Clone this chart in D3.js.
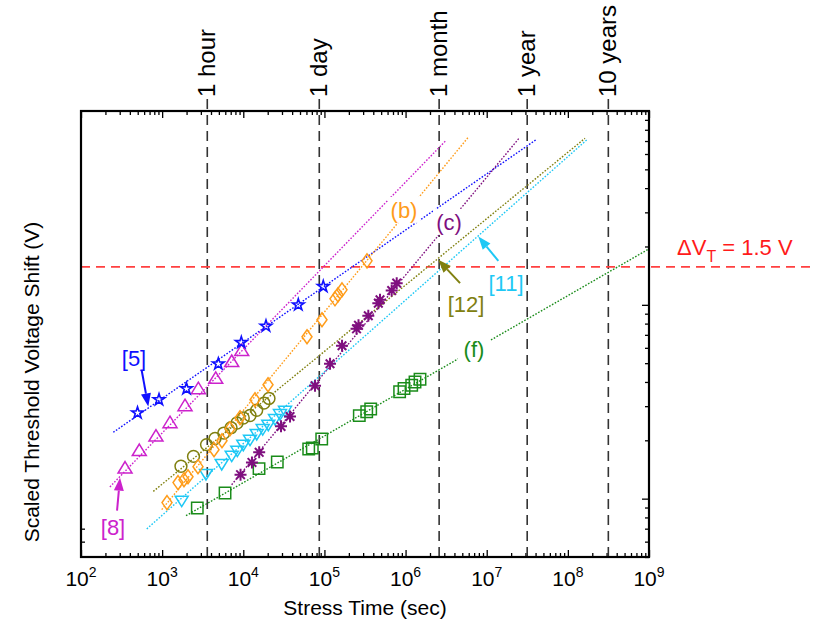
<!DOCTYPE html>
<html>
<head>
<meta charset="utf-8">
<script src="https://d3js.org/d3.v7.min.js"></script>
<style>
  body { margin: 0; background: #fff; }
  svg text { font-family: "Liberation Sans", Arial, sans-serif; }
</style>
</head>
<body>
<svg id="chart" width="815" height="628"></svg>
<script>
// measured points: [stress time (s), scaled threshold voltage shift (V)]
const ref5  = [[497,0.277],[915,0.324],[1995,0.369],[4925,0.496],[9460,0.639],[19050,0.777],[47650,1.0],[96800,1.243]];
const ref8  = [[349,0.143],[523,0.176],[839,0.209],[1250,0.245],[1914,0.300],[2793,0.367],[4573,0.415],[7200,0.507],[9560,0.577]];
const refB  = [[1148,0.0954],[1569,0.121],[1858,0.1253],[2083,0.1298],[2766,0.1462],[4357,0.179],[5466,0.199],[6860,0.2296],[9114,0.2616],[13940,0.3238],[20170,0.3872],[60990,0.684],[93300,0.837],[134900,1.074],[146900,1.126],[164700,1.195],[334900,1.686]];
const refC  = [[9250,0.133],[12790,0.1538],[15700,0.1733],[29170,0.236],[37670,0.2653],[76560,0.3824],[117200,0.4965],[164800,0.615],[248600,0.752],[263000,0.784],[347300,0.878],[461600,1.02],[484200,1.061],[674600,1.185],[777700,1.294]];
const ref12 = [[1706,0.147],[2435,0.1652],[3524,0.19],[4482,0.2043],[5754,0.218],[7060,0.2323],[8364,0.2456],[10000,0.2606],[12100,0.2685],[14630,0.2859],[17990,0.3113],[20740,0.3289]];
const ref11 = [[1742,0.0988],[3471,0.1357],[5421,0.1528],[7200,0.1686],[8440,0.179],[10000,0.192],[12100,0.2039],[14640,0.2181],[17350,0.2314],[20340,0.2435],[24600,0.2606],[28340,0.2765],[32660,0.2874]];
const refF  = [[2711,0.0895],[5960,0.107],[15630,0.1428],[26250,0.1546],[64000,0.1804],[70900,0.1824],[92590,0.2032],[269000,0.268],[332000,0.2808],[371700,0.29],[844600,0.356],[957000,0.3703],[1190000,0.3846],[1307000,0.3995],[1507000,0.413]];

// fitted power-law lines, end points
const fit5  = [[250,0.22],[4.02e7,7.09]];
const fit8  = [[227,0.115],[3.13e6,7.03]];
const fitB  = [[988,0.0878],[5.93e6,7.32]];
const fitC  = [[7190,0.118],[2.5e7,7.23]];
const fit12 = [[778,0.109],[1.626e8,7.23]];
const fit11 = [[646,0.0698],[1.707e8,7.09]];
const fitF  = [[1968,0.0817],[1e9,1.944]];

// time landmarks (s)
const timeLabels = ["1 hour", "1 day", "1 month", "1 year", "10 years"];
const timeValues = [3600, 86400, 2592000, 31536000, 315360000];

const xDomain = [1e2, 1e9];
const yDomain = [0.05, 10];
const xExponents = [2, 3, 4, 5, 6, 7, 8, 9];
const leftTicks = [0.06, 0.07];
const criterion = 1.57;

// annotation text positions and arrows [from, to]
const labels = [
  {text: "[5]",  at: [450, 0.533],   color: "#1010ff", bg: false},
  {text: "[8]",  at: [248, 0.0717],  color: "#cc22cc", bg: false},
  {text: "(b)",  at: [9.57e5, 3.088], color: "#ff9c1a", bg: true},
  {text: "(c)",  at: [3.43e6, 2.678], color: "#7f0f7f", bg: true},
  {text: "[11]", at: [1.73e7, 1.299], color: "#1ec8f5", bg: false},
  {text: "[12]", at: [5.56e6, 1.012], color: "#808010", bg: false},
  {text: "(f)",  at: [6.97e6, 0.593], color: "#1a8c1a", bg: true}
];
const arrows = [
  {from: [560, 0.4585], to: [675, 0.299], color: "#1010ff"},
  {from: [278, 0.0867], to: [302.6, 0.1283], color: "#cc22cc"},
  {from: [1.39e7, 1.686], to: [7.88e6, 2.249], color: "#1ec8f5"},
  {from: [4.69e6, 1.294], to: [2.53e6, 1.706], color: "#808010"}
];

const margin = {top: 111, right: 166, bottom: 71, left: 81};
const width = 815, height = 628;
const svg = d3.select("#chart");

let x = d3.scaleLog().domain(xDomain).range([margin.left, width - margin.right]);
let y = d3.scaleLog().domain(yDomain).range([height - margin.bottom, margin.top]);
const x0 = x.range()[0], x1 = x.range()[1], yTop = y.range()[1], yBot = y.range()[0];

// clip for plot content
svg.append("clipPath").attr("id", "plotclip")
   .append("rect").attr("x", x0).attr("y", yTop).attr("width", x1 - x0).attr("height", yBot - yTop);

// ticks (inside)
const xMinor = x.ticks().filter(d => Math.abs(Math.log10(d) - Math.round(Math.log10(d))) > 1e-6);
const xMajor = xExponents.map(e => Math.pow(10, e));
const yAll = y.ticks();
const yMajor = yAll.filter(d => Math.abs(Math.log10(d) - Math.round(Math.log10(d))) < 1e-6);
const yMinor = yAll.filter(d => !yMajor.includes(d));

function tickAxis(axisFn, scale, values, len, transform) {
  const g = svg.append("g").attr("transform", transform)
     .call(axisFn(scale).tickValues(values).tickSize(-len).tickFormat(""));
  g.select(".domain").remove();
  g.selectAll("line").attr("stroke", "#000").attr("stroke-width", 1.3);
}
tickAxis(d3.axisBottom, x, xMajor, 7, `translate(0,${yBot})`);
tickAxis(d3.axisBottom, x, xMinor, 4, `translate(0,${yBot})`);
tickAxis(d3.axisTop, x, xMajor, 7, `translate(0,${yTop})`);
tickAxis(d3.axisTop, x, xMinor, 4, `translate(0,${yTop})`);
tickAxis(d3.axisRight, y, yMajor, 7, `translate(${x1},0)`);
tickAxis(d3.axisRight, y, yMinor, 4, `translate(${x1},0)`);
tickAxis(d3.axisLeft, y, leftTicks, 4, `translate(${x0},0)`);

// x tick labels 10^n
svg.append("g").selectAll("text").data(xExponents).join("text")
   .attr("x", d => x(Math.pow(10, d)))
   .attr("y", yBot + 29)
   .attr("text-anchor", "middle")
   .attr("font-size", 21)
   .each(function(d) {
     const t = d3.select(this);
     t.append("tspan").text("10");
     t.append("tspan").attr("font-size", 14).attr("dy", -9).text(d);
   });

// time landmarks
const tg = svg.append("g");
tg.selectAll("line").data(timeValues).join("line")
  .attr("x1", d => x(d)).attr("x2", d => x(d))
  .attr("y1", 99).attr("y2", yBot)
  .attr("stroke", "#333").attr("stroke-width", 1.6)
  .attr("stroke-dasharray", "10,6");
tg.selectAll("text").data(timeValues).join("text")
  .attr("transform", d => `translate(${x(d) + 8},97) rotate(-90)`)
  .attr("text-anchor", "start")
  .attr("font-size", 24)
  .text((d, i) => timeLabels[i]);

// criterion line
svg.append("line")
   .attr("x1", x0).attr("x2", width)
   .attr("y1", y(criterion)).attr("y2", y(criterion))
   .attr("stroke", "#ff4040").attr("stroke-width", 1.6)
   .attr("stroke-dasharray", "9,6");
const crit = svg.append("text")
   .attr("x", x1 + 28).attr("y", y(criterion) - 12)
   .attr("fill", "#ff1a1a").attr("font-size", 22);
crit.append("tspan").text("\u0394V");
crit.append("tspan").attr("font-size", 16).attr("dy", 7).text("T");
crit.append("tspan").attr("dy", -7).attr("xml:space", "preserve").text(" = 1.5 V");

// fitted lines
const plot = svg.append("g").attr("clip-path", "url(#plotclip)");
const lineGen = d3.line().x(d => x(d[0])).y(d => y(d[1]));
const fits = [[fit5, "#1010ff"], [fit8, "#cc22cc"], [fitB, "#ff9c1a"], [fitC, "#7f0f7f"],
              [fit12, "#808010"], [fit11, "#1ec8f5"], [fitF, "#1a8c1a"]];
plot.selectAll("path.fit").data(fits).join("path")
    .attr("class", "fit")
    .attr("d", d => lineGen(d[0]))
    .attr("fill", "none").attr("stroke", d => d[1])
    .attr("stroke-width", 1.4).attr("stroke-dasharray", "1.6,1.6");

// markers
function markers(data, path, color, sw) {
  plot.append("g").selectAll("path").data(data).join("path")
      .attr("transform", d => `translate(${x(d[0])},${y(d[1])})`)
      .attr("d", path)
      .attr("fill", "none").attr("stroke", color).attr("stroke-width", sw);
}
const diamondPath = "M0,-7L5,0L0,7L-5,0Z";
const asteriskPath = "M-6,0L6,0M0,-6L0,6M-4.3,-4.3L4.3,4.3M-4.3,4.3L4.3,-4.3";
markers(refF, d3.symbol(d3.symbolSquare, 130)(), "#1a8c1a", 1.5);
markers(ref11, "M-6.5,-3.5L6.5,-3.5L0,7Z", "#1ec8f5", 1.5);
markers(ref12, d3.symbol(d3.symbolCircle, 110)(), "#808010", 1.5);
markers(refB, diamondPath, "#ff9c1a", 1.5);
markers(refC, asteriskPath, "#7f0f7f", 2);
markers(ref8, "M0,-7L7,4.5L-7,4.5Z", "#cc22cc", 1.5);
markers(ref5, d3.symbol(d3.symbolStar, 42)(), "#1010ff", 1.6);

// arrows
arrows.forEach(a => {
  const [sx, sy] = [x(a.from[0]), y(a.from[1])];
  const [ex, ey] = [x(a.to[0]), y(a.to[1])];
  const ang = Math.atan2(ey - sy, ex - sx);
  const L = 13, W = 5;
  const bx = ex - L * Math.cos(ang), by = ey - L * Math.sin(ang);
  svg.append("line").attr("x1", sx).attr("y1", sy).attr("x2", bx).attr("y2", by)
     .attr("stroke", a.color).attr("stroke-width", 2);
  const px = -Math.sin(ang) * W, py = Math.cos(ang) * W;
  svg.append("path")
     .attr("d", `M${ex},${ey}L${bx + px},${by + py}L${bx - px},${by - py}Z`)
     .attr("fill", a.color);
});

// labels
labels.forEach(l => {
  const lx = x(l.at[0]), ly = y(l.at[1]);
  if (l.bg) {
    svg.append("rect").attr("x", lx - 16).attr("y", ly - 13).attr("width", 32).attr("height", 26)
       .attr("fill", "#fff");
  }
  svg.append("text").attr("x", lx).attr("y", ly + 8)
     .attr("text-anchor", "middle").attr("font-size", 22)
     .attr("fill", l.color).text(l.text);
});

// frame
svg.append("rect").attr("x", x0).attr("y", yTop)
   .attr("width", x1 - x0).attr("height", yBot - yTop)
   .attr("fill", "none").attr("stroke", "#000").attr("stroke-width", 2.2);

// axis titles
svg.append("text").attr("x", (x0 + x1) / 2).attr("y", yBot + 58)
   .attr("text-anchor", "middle").attr("font-size", 21).text("Stress Time (sec)");
svg.append("text").attr("transform", `translate(39,${(yTop + yBot) / 2 + 48}) rotate(-90)`)
   .attr("text-anchor", "middle").attr("font-size", 21).text("Scaled Threshold Voltage Shift (V)");
</script>
</body>
</html>
